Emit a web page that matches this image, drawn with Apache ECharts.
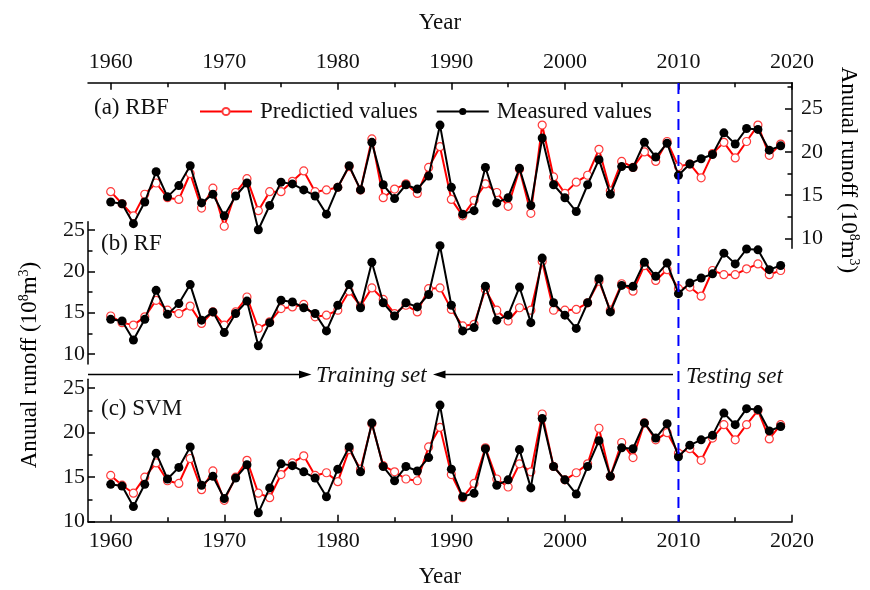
<!DOCTYPE html>
<html><head><meta charset="utf-8">
<script src="https://cdn.jsdelivr.net/npm/echarts@6/dist/echarts.min.js"></script>
<style>html,body{margin:0;padding:0;background:#fff}#c{width:870px;height:590px}</style>
</head><body><div id="c"></div>
<script>
const years = [1960,1961,1962,1963,1964,1965,1966,1967,1968,1969,
  1970,1971,1972,1973,1974,1975,1976,1977,1978,1979,
  1980,1981,1982,1983,1984,1985,1986,1987,1988,1989,
  1990,1991,1992,1993,1994,1995,1996,1997,1998,1999,
  2000,2001,2002,2003,2004,2005,2006,2007,2008,2009,
  2010,2011,2012,2013,2014,2015,2016,2017,2018,2019];
const measured = [14.2,14.0,11.7,14.2,17.7,14.8,16.1,18.4,14.1,15.1,
  12.6,14.9,16.4,11.0,13.8,16.5,16.3,15.6,14.9,12.8,
  15.9,18.4,15.6,21.1,16.2,14.6,16.2,15.7,17.2,23.1,
  15.9,12.8,13.2,18.2,14.1,14.7,18.1,13.8,21.6,16.2,
  14.7,13.1,16.2,19.1,15.1,18.3,18.2,21.1,19.4,21.0,
  17.3,18.6,19.2,19.7,22.2,20.9,22.7,22.6,20.2,20.7];
const rbfPred = [15.4,14.0,12.6,15.1,16.4,14.7,14.5,17.5,13.5,15.8,
  11.4,15.3,16.9,13.2,15.4,15.4,16.6,17.8,15.4,15.6,
  15.9,18.3,15.6,21.5,14.7,15.7,16.3,15.2,18.2,20.6,
  14.5,12.6,14.4,16.3,15.3,13.7,18.0,12.9,23.1,17.1,
  15.2,16.5,17.3,20.3,15.5,18.9,18.2,20.0,18.9,21.2,
  18.3,18.6,17.0,19.8,21.1,19.3,21.2,23.1,19.6,20.9];
const rfPred = [14.6,13.8,13.5,14.5,16.5,15.3,14.9,15.8,13.7,15.1,
  13.5,15.1,16.9,13.1,13.9,15.5,15.7,16.0,14.5,14.7,
  15.3,17.6,15.8,18.0,16.6,14.9,15.9,15.1,17.9,18.0,
  15.4,13.4,13.6,17.8,15.3,14.0,15.6,15.3,21.2,15.3,
  15.3,15.4,16.2,18.8,15.3,18.5,17.6,20.7,18.9,20.2,
  17.9,18.1,17.0,20.1,19.6,19.6,20.3,20.9,19.6,20.1];
const svmPred = [15.2,14.1,13.2,15.0,16.6,14.6,14.3,17.1,13.6,15.7,
  12.4,15.0,16.9,13.2,12.7,15.3,16.6,17.4,15.2,15.5,
  14.5,18.1,15.9,21.0,16.3,15.6,14.8,14.6,18.4,20.6,
  15.3,12.7,14.3,18.3,14.8,13.9,16.5,15.6,22.1,16.2,
  14.7,15.5,16.5,20.5,15.1,18.9,17.2,21.1,19.2,20.0,
  17.7,18.2,16.9,19.4,20.9,19.2,20.9,22.5,19.3,20.9];
const xLabels = [1960,1970,1980,1990,2000,2010,2020];
const xMinor = [1965,1975,1985,1995,2005,2015];
const yLabels = [10,15,20,25];
const yMinor = [12.5,17.5,22.5,27.5];
const splitYear = 2010;

const FONT = '"Liberation Serif","Times New Roman",serif';
const TXT = '#111';
const pairs = (arr) => years.map((y, i) => [y, arr[i]]);
const plain = (v) => String(v);

function xMajor(grid, pos, labels, name, gap) {
  return {
    type: 'value', gridIndex: grid, position: pos, min: 1958, max: 2020,
    axisLine: {show: true, lineStyle: {color: '#000', width: 1.5}},
    axisTick: {show: true, inside: true, length: 7, lineStyle: {color: '#000', width: 1.5}, customValues: xLabels},
    axisLabel: {show: labels, customValues: xLabels, formatter: plain, margin: 9, fontSize: 22, fontFamily: FONT, color: TXT},
    splitLine: {show: false},
    name: name, nameLocation: 'middle', nameGap: gap,
    nameTextStyle: {fontSize: 23, fontFamily: FONT, color: TXT}
  };
}
function xMin(grid, pos) {
  return {
    type: 'value', gridIndex: grid, position: pos, min: 1958, max: 2020,
    axisLine: {show: false},
    axisTick: {show: true, inside: true, length: 4.5, lineStyle: {color: '#000', width: 1.5}, customValues: xMinor},
    axisLabel: {show: false}, splitLine: {show: false}
  };
}
function yMajor(grid, pos, mn, mx, margin) {
  return {
    type: 'value', gridIndex: grid, position: pos, min: mn, max: mx,
    axisLine: {show: true, lineStyle: {color: '#000', width: 1.5}},
    axisTick: {show: true, inside: true, length: 7, lineStyle: {color: '#000', width: 1.5}, customValues: yLabels},
    axisLabel: {customValues: yLabels, formatter: plain, margin: margin, fontSize: 22, fontFamily: FONT, color: TXT},
    splitLine: {show: false}
  };
}
function yMin(grid, pos, mn, mx) {
  return {
    type: 'value', gridIndex: grid, position: pos, min: mn, max: mx,
    axisLine: {show: false},
    axisTick: {show: true, inside: true, length: 4.5, lineStyle: {color: '#000', width: 1.5},
      customValues: yMinor.filter(v => v < mx)},
    axisLabel: {show: false}, splitLine: {show: false}
  };
}
function predSeries(data, xi, yi) {
  return {
    name: 'Predictied values', type: 'line', xAxisIndex: xi, yAxisIndex: yi,
    data: pairs(data), symbol: 'circle', symbolSize: 8, z: 2,
    lineStyle: {color: '#ff0000', width: 2},
    itemStyle: {color: '#ffffff', borderColor: '#ff3b3b', borderWidth: 1.2},
    emphasis: {disabled: true}
  };
}
function measSeries(xi, yi) {
  return {
    name: 'Measured values', type: 'line', xAxisIndex: xi, yAxisIndex: yi,
    data: pairs(measured), symbol: 'circle', symbolSize: 9, z: 3,
    lineStyle: {color: '#000', width: 2},
    itemStyle: {color: '#000'},
    emphasis: {disabled: true}
  };
}

const chart = echarts.init(document.getElementById('c'), null, {renderer: 'canvas'});
const option = {
  animation: false,
  backgroundColor: '#fff',
  grid: [
    {left: 88, width: 704, top: 82.7, height: 165.6},
    {left: 88, width: 704, top: 221.7, height: 142.3},
    {left: 88, width: 704, top: 379.3, height: 142.4}
  ],
  legend: {
    left: 194, top: 95, itemWidth: 52, itemHeight: 9, itemGap: 18,
    data: ['Predictied values', 'Measured values'],
    textStyle: {fontSize: 23, fontFamily: FONT, color: TXT, padding: [0, 0, 0, 3]}
  },
  xAxis: [
    xMajor(0, 'top', true, 'Year', 48),
    xMin(0, 'top'),
    Object.assign(xMajor(1, 'bottom', false, '', 0), {show: false}),
    xMajor(2, 'bottom', true, 'Year', 44),
    xMin(2, 'bottom')
  ],
  yAxis: [
    yMajor(0, 'right', 8.85, 28, 9),
    yMin(0, 'right', 8.85, 28),
    yMajor(1, 'left', 8.8, 26, 3),
    yMin(1, 'left', 8.8, 26),
    yMajor(2, 'left', 10, 26, 3),
    yMin(2, 'left', 10, 26)
  ],
  series: [
    predSeries(rbfPred, 0, 0), measSeries(0, 0),
    predSeries(rfPred, 2, 2), measSeries(2, 2),
    predSeries(svmPred, 3, 4), measSeries(3, 4)
  ]
};
chart.setOption(option);

const xs = chart.convertToPixel({xAxisIndex: 0}, splitYear);
const rich = {
  n: {fontSize: 23, fontFamily: FONT, color: TXT, lineHeight: 26},
  s: {fontSize: 14, fontFamily: FONT, color: TXT, lineHeight: 14, verticalAlign: 'top'}
};
const yName = '{n|Anuual runoff (10}{s|8}{n|m}{s|3}{n|)}';
function txt(text, x, y, extra) {
  return {type: 'text', x: x, y: y, z: 10, silent: true,
    style: Object.assign({text: text, fontSize: 23, fontFamily: FONT, fill: TXT,
      align: 'left', verticalAlign: 'middle'}, extra || {})};
}
chart.setOption({
  graphic: [
    {type: 'line', z: 5, silent: true,
      shape: {x1: xs, y1: 83, x2: xs, y2: 521.7},
      style: {stroke: '#0000ff', lineWidth: 2, lineDash: [11, 7]}},
    txt('(a) RBF', 94, 107.5),
    txt('(b) RF', 101, 243.5),
    txt('(c) SVM', 101, 408.5),
    {type: 'text', x: 30, y: 365, rotation: Math.PI / 2, silent: true,
      style: {text: yName, rich: rich, align: 'center', verticalAlign: 'middle'}},
    {type: 'text', x: 848, y: 170, rotation: -Math.PI / 2, silent: true,
      style: {text: yName, rich: rich, align: 'center', verticalAlign: 'middle'}},
    {type: 'line', silent: true, shape: {x1: 88, y1: 374.5, x2: 302, y2: 374.5},
      style: {stroke: '#000', lineWidth: 1.5}},
    {type: 'polygon', silent: true, shape: {points: [[311.5, 374.5], [299, 370.5], [299, 378.5]]},
      style: {fill: '#000'}},
    txt('Training set', 316, 376, {fontStyle: 'italic'}),
    {type: 'line', silent: true, shape: {x1: 442, y1: 374.5, x2: 673, y2: 374.5},
      style: {stroke: '#000', lineWidth: 1.5}},
    {type: 'polygon', silent: true, shape: {points: [[433, 374.5], [445.5, 370.5], [445.5, 378.5]]},
      style: {fill: '#000'}},
    txt('Testing set', 686, 377, {fontStyle: 'italic'})
  ]
});
</script>
</body></html>
